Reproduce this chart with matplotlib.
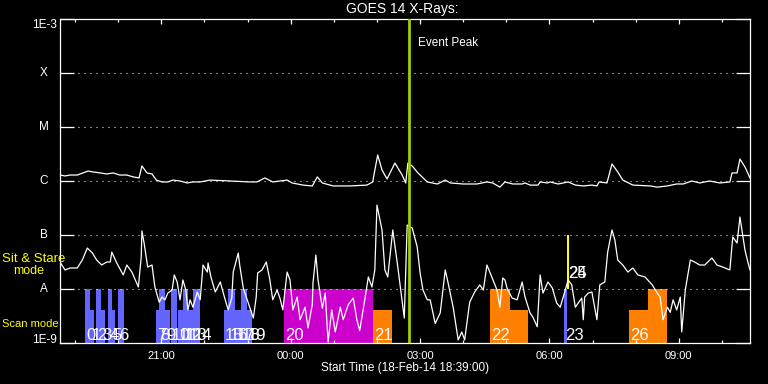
import matplotlib
matplotlib.use('Agg')
import matplotlib.pyplot as plt
from matplotlib.ticker import FixedLocator, NullLocator, FixedFormatter

plt.rcParams['font.family'] = ['Liberation Sans', 'DejaVu Sans']

start_ut = '18:39'
span = 960  # minutes shown after start

# GOES 14 1-8 A channel, minutes after start, flux in 1e-6 W/m^2
t_long = [0, 7, 14, 24, 32, 39, 46, 56, 65, 74, 83, 93, 102, 110, 114, 121, 128, 134, 142, 150,
          157, 167, 177, 185, 195, 209, 237, 264, 274, 285, 296, 316, 323, 338, 351, 358, 365, 380,
          403, 427, 435, 442, 448, 455, 466, 476, 481, 484, 490, 498, 511, 525, 536, 543, 561, 580,
          594, 602, 612, 619, 630, 643, 647, 654, 665, 668, 678, 682, 693, 707, 717, 728, 740, 747,
          750, 761, 768, 776, 783, 797, 821, 831, 845, 858, 867, 879, 890, 904, 918, 932, 935, 942,
          946, 953, 960]
f_long = [1.29, 1.24, 1.29, 1.29, 1.41, 1.53, 1.47, 1.41, 1.35, 1.41, 1.29, 1.29, 1.19, 1.14, 1.90,
          1.41, 1.35, 1.04, 0.96, 0.96, 1.04, 1.00, 0.92, 0.96, 0.96, 1.04, 1.00, 0.96, 0.96, 1.14,
          0.96, 1.04, 0.92, 0.84, 0.81, 1.19, 0.92, 0.81, 0.81, 0.84, 0.96, 3.03, 1.60, 1.09, 2.15,
          1.29, 0.92, 2.15, 1.90, 1.41, 0.96, 0.88, 1.04, 0.92, 0.88, 0.88, 0.96, 0.92, 0.77, 0.96,
          0.88, 0.88, 0.92, 0.84, 0.84, 0.96, 0.92, 0.96, 0.88, 0.96, 0.84, 0.81, 0.84, 0.81, 0.96,
          0.92, 2.07, 1.47, 1.04, 0.84, 0.81, 0.77, 0.81, 0.88, 0.88, 1.00, 0.92, 1.00, 0.92, 0.96,
          1.41, 1.41, 2.55, 1.82, 1.14]

# GOES 14 0.5-4 A channel, minutes after start, flux in 1e-9 W/m^2
t_short = [0, 7, 14, 24, 31, 38, 45, 51, 58, 65, 70, 72, 79, 88, 93, 100, 109, 113, 114, 117,
           122, 128, 132, 138, 142, 146, 150, 156, 159, 163, 167, 171, 175, 178, 181, 185, 191, 195,
           199, 205, 206, 210, 216, 223, 228, 234, 239, 241, 248, 250, 255, 262, 264, 269, 273, 275,
           281, 287, 292, 296, 302, 306, 310, 316, 320, 324, 330, 334, 341, 345, 351, 352, 356, 359,
           365, 369, 373, 378, 383, 390, 394, 401, 408, 413, 417, 424, 429, 434, 438, 441, 448, 452,
           456, 463, 470, 479, 483, 490, 497, 501, 505, 511, 515, 522, 529, 536, 540, 547, 554, 559,
           563, 570, 577, 584, 589, 594, 598, 608, 612, 616, 619, 622, 629, 636, 643, 647, 654, 658,
           664, 668, 672, 679, 685, 691, 696, 703, 707, 712, 717, 721, 726, 728, 730, 735, 740, 747,
           751, 758, 762, 768, 772, 776, 783, 790, 797, 804, 814, 824, 831, 835, 839, 845, 849, 853,
           858, 863, 865, 870, 877, 883, 890, 897, 907, 914, 922, 932, 936, 942, 946, 953, 957, 960]
f_short = [31.6, 22.5, 24.5, 24.5, 34.4, 57.4, 46.4, 34.4, 27.8, 31.6, 31.6, 48.4, 30.3, 18.2, 27.8,
           20.6, 10.9, 39.1, 119, 71.1, 25.5, 27.8, 10.9, 5.7, 7.1, 6.3, 8.4, 9.6, 18.2, 13.5,
           6.3, 14.7, 9.6, 4.1, 6.3, 4.6, 8.8, 6.3, 27.8, 20.6, 30.3, 16.7, 8.8, 13.5, 7.7,
           4.1, 6.8, 20.6, 46.4, 27.8, 10.4, 5.5, 4.6, 2.9, 7.1, 19.8, 22.5, 31.6, 14.7, 6.3,
           9.6, 6.8, 4.1, 20.6, 14.7, 4.1, 7.1, 2.7, 4.6, 1.9, 5.1, 12.9, 42.6, 14.7, 4.4,
           8.4, 1.04, 4.1, 1.6, 4.6, 2.7, 5.1, 6.8, 2.7, 1.7, 6.3, 16.7, 10.9, 22.5, 359,
           124, 22.5, 16.7, 124, 25.5, 2.9, 153, 135, 59.9, 19.8, 9.6, 6.3, 6.3, 2.3, 3.6,
           22.5, 12.9, 4.6, 1.14, 1.6, 1.14, 5.7, 8.8, 11.9, 9.6, 27.8, 20.6, 9.6, 4.6, 16.0,
           14.7, 10.4, 6.8, 6.3, 13.5, 7.1, 3.6, 3.0, 2.0, 18.2, 8.4, 13.5, 10.4, 5.5, 4.6,
           9.6, 14.7, 11.9, 4.6, 5.5, 6.8, 2.7, 7.1, 8.4, 8.8, 2.7, 11.9, 13.5, 48.4, 124,
           80.8, 34.4, 27.8, 20.6, 24.5, 18.2, 16.7, 11.9, 8.4, 7.1, 2.7, 4.6, 3.7, 6.3, 4.1,
           7.1, 1.6, 9.6, 34.4, 31.6, 27.8, 27.8, 37.5, 27.8, 25.5, 22.5, 91.8, 71.1, 215, 52.7,
           31.6, 22.5]

# observations (UT)
obs_label = ['0', '1', '2', '3', '4', '5', '6', '7', '8', '9', '10', '11', '12', '13', '14',
             '15', '16', '17', '18', '19', '20', '21', '22', '', '23', '24', '25', '26', '']
obs_start = ['19:14', '19:21', '19:29', '19:36', '19:46', '19:51', '20:00', '20:53', '20:57', '21:05',
             '21:13', '21:23', '21:30', '21:37', '21:44', '22:27', '22:33', '22:43', '22:51', '22:59',
             '23:51', '01:54', '04:37', '05:05', '06:20', '06:24', '06:25', '07:51', '08:17']
obs_end = ['19:21', '19:26', '19:36', '19:42', '19:51', '19:56', '20:08', '20:57', '21:05', '21:12',
           '21:22', '21:30', '21:37', '21:44', '21:54', '22:33', '22:43', '22:51', '22:59', '23:06',
           '01:54', '02:21', '05:05', '05:30', '06:25', '06:27', '06:27', '08:17', '08:44']
obs_mode = ['scan'] * 25 + ['sit', 'sit'] + ['scan', 'scan']
obs_kind = ['full', 'part', 'full', 'part', 'full', 'part', 'full', 'part', 'full', 'part',
            'full', 'part', 'full', 'part', 'full', 'part', 'full', 'part', 'full', 'part',
            'full', 'part', 'full', 'part', 'full', 'part', 'full', 'part', 'full']
obs_prog = ['blue'] * 20 + ['magenta', 'orange', 'orange', 'orange', 'blue', 'yellow', 'yellow',
                            'orange', 'orange']
event_peak = '02:45'

prog_color = {'blue': '#6464ff', 'magenta': '#cc00cc', 'orange': '#ff8000', 'yellow': '#ffff00'}
bar_range = {('scan', 'full'): (1e-9, 1e-8), ('scan', 'part'): (1e-9, 4.1e-9),
             ('sit', 'full'): (1e-8, 1e-7), ('sit', 'part'): (4.1e-8, 1e-7)}
label_y = {'scan': 1.14e-9, 'sit': 1.6e-8}


def mins(s):
    h, m = s.split(':')
    h0, m0 = start_ut.split(':')
    return ((int(h) * 60 + int(m)) - (int(h0) * 60 + int(m0))) % 1440


def ut(m):
    h0, m0 = start_ut.split(':')
    t = (int(h0) * 60 + int(m0) + m) % 1440
    return '%02d:%02d' % (t // 60, t % 60)


W, H = 768, 384
fig = plt.figure(figsize=(W / 100, H / 100), dpi=100, facecolor='black')
ax = fig.add_axes([60 / W, 41 / H, 690 / W, 324 / H], facecolor='black')
ax.set_yscale('log')
ax.set_xlim(0, span)
ax.set_ylim(1e-9, 1e-3)

# observation blocks
for lab, s, e, mode, kind, prog in zip(obs_label, obs_start, obs_end, obs_mode, obs_kind, obs_prog):
    x0, x1 = mins(s), mins(e)
    lo, hi = bar_range[(mode, kind)]
    ax.bar(x0, hi - lo, width=x1 - x0, bottom=lo, align='edge', color=prog_color[prog],
           linewidth=0, zorder=1)
    if lab:
        ax.annotate(lab, xy=(x0, label_y[mode]), xytext=(0.8, 0), textcoords='offset points',
                    color='white', fontsize=12, ha='left', va='baseline', zorder=2)

# dotted class levels
for lev in [1e-8, 1e-7, 1e-6, 1e-5, 1e-4]:
    ax.axhline(lev, color='white', lw=0.8, ls=(0, (0.9, 4.5)), zorder=1.5)

ax.plot(t_long, [v * 1e-6 for v in f_long], color='white', lw=0.9, zorder=3)
ax.plot(t_short, [v * 1e-9 for v in f_short], color='white', lw=0.9, zorder=3)

ax.axvline(mins(event_peak), color='#a0cc00', lw=2, zorder=4)
ax.annotate('Event Peak', xy=(mins(event_peak), 1), xycoords=('data', 'axes fraction'),
            xytext=(6.5, -13), textcoords='offset points', color='white', fontsize=8.5,
            ha='left', va='top')

# axes styling
for sp in ax.spines.values():
    sp.set_color('white')
    sp.set_linewidth(0.9)

ax.yaxis.set_major_locator(FixedLocator([1e-9, 1e-8, 1e-7, 1e-6, 1e-5, 1e-4, 1e-3]))
ax.yaxis.set_minor_locator(NullLocator())
ax.tick_params(axis='y', which='major', direction='in', length=10, width=0.9, color='white',
               left=True, right=True, labelleft=False)

major = list(range(mins('21:00'), span + 1, 180))
minor = [m for m in range(mins('19:00'), span + 1, 60) if m not in major]
ax.xaxis.set_major_locator(FixedLocator(major))
ax.xaxis.set_major_formatter(FixedFormatter([ut(m) for m in major]))
ax.xaxis.set_minor_locator(FixedLocator(minor))
ax.tick_params(axis='x', which='major', direction='in', length=3.6, width=0.9, color='white',
               labelcolor='white', labelsize=8, top=True, bottom=True, pad=6)
ax.tick_params(axis='x', which='minor', direction='in', length=2.2, width=0.9, color='white',
               top=True, bottom=True)

# y labels
ytr = ax.get_yaxis_transform()
ax.text(-3 / 690, 1e-3, '1E-3', transform=ytr, color='white', fontsize=8.5, ha='right', va='top')
ax.text(-3 / 690, 1e-9, '1E-9', transform=ytr, color='white', fontsize=8.5, ha='right',
        va='baseline')
for lev, name in zip([1e-4, 1e-5, 1e-6, 1e-7, 1e-8], ['X', 'M', 'C', 'B', 'A']):
    ax.text(-16 / 690, lev, name, transform=ytr, color='white', fontsize=8.5, ha='center',
            va='center')


def px(x, y):
    return x / W, 1 - y / H


fig.text(*px(402, 9.5), 'GOES 14 X-Rays:', color='white', fontsize=10, ha='center', va='center')
fig.text(*px(405, 368), 'Start Time (18-Feb-14 %s:00)' % start_ut, color='white', fontsize=8.5,
         ha='center', va='center')
fig.text(*px(2, 259.5), 'Sit & Stare', color='#ffff00', fontsize=9.5, ha='left', va='center')
fig.text(*px(13, 271), 'mode', color='#ffff00', fontsize=9, ha='left', va='center')
fig.text(*px(2, 324), 'Scan mode', color='#ffff00', fontsize=8, ha='left', va='center')

fig.savefig('out.png', dpi=100, facecolor='black')
